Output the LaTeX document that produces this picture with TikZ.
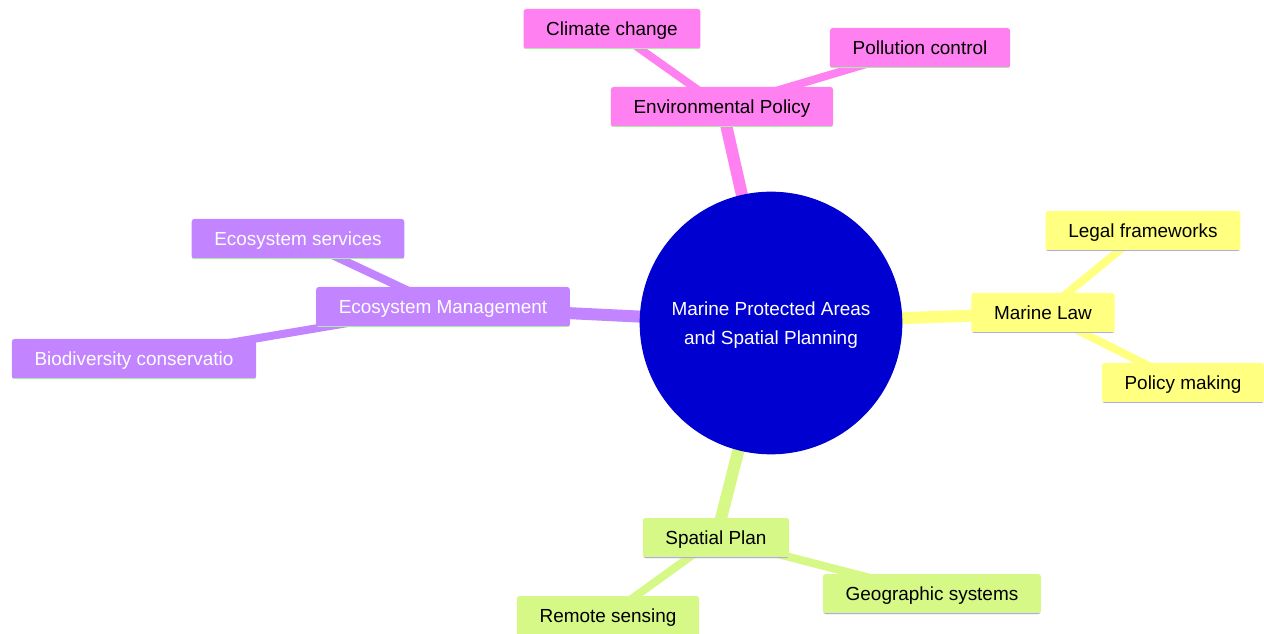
\documentclass[tikz,border=0pt]{standalone}
\usepackage{fontspec}
\setmainfont{Liberation Sans}
\usetikzlibrary{backgrounds,positioning}
\definecolor{pinkbr}{RGB}{255,128,240}
\definecolor{purplebr}{RGB}{194,132,255}
\definecolor{yellowbr}{RGB}{255,255,128}
\definecolor{limebr}{RGB}{214,248,134}
\definecolor{rootblue}{RGB}{0,0,208}
\definecolor{greenline}{RGB}{170,236,160}
\definecolor{lavline}{RGB}{176,172,232}
\tikzstyle{mapbox}=[rectangle,rounded corners=2pt,inner xsep=17pt,minimum height=30pt,
  text height=10.4pt,text depth=0pt,font=\fontsize{14.2}{17}\selectfont,text=black]
\tikzstyle{pinkbox}=[mapbox,fill=pinkbr,path picture={\draw[greenline,line width=2pt]
  (path picture bounding box.south west) -- (path picture bounding box.south east);}]
\tikzstyle{purplebox}=[mapbox,fill=purplebr,text=white,path picture={\draw[greenline,line width=2pt]
  (path picture bounding box.south west) -- (path picture bounding box.south east);}]
\tikzstyle{yellowbox}=[mapbox,fill=yellowbr,path picture={\draw[lavline,line width=2pt]
  (path picture bounding box.south west) -- (path picture bounding box.south east);}]
\tikzstyle{limebox}=[mapbox,fill=limebr,path picture={\draw[lavline,line width=2pt]
  (path picture bounding box.south west) -- (path picture bounding box.south east);}]
\begin{document}
\begin{tikzpicture}[x=0.75pt,y=-0.75pt]
        \tikzstyle{every edge}=[-,draw,line cap=round]
        \useasboundingbox (0,0) rectangle (1264,634);

        % root
        \node (root) [circle,fill=rootblue,minimum size=197pt,inner sep=0pt,text=white,
          align=center,text depth=0pt,font=\fontsize{14.2}{21.5}\selectfont] at (771,323)
          {Marine Protected Areas\\and Spatial Planning};
        % Environmental Policy:
        \node (envp) [pinkbox] at (722,107) {Environmental Policy};
        \node (clim) [pinkbox] at (612,29) {Climate change};
        \node (poll) [pinkbox] at (920,48) {Pollution control};
        % Ecosystem Management:
        \node (ecom) [purplebox] at (443,307) {Ecosystem Management};
        \node (ecos) [purplebox] at (298,239) {Ecosystem services};
        \node (biod) [purplebox] at (134,359) {Biodiversity conservatio};
        % Marine Law:
        \node (mlaw) [yellowbox] at (1043,313) {Marine Law};
        \node (legal) [yellowbox] at (1143,231) {Legal frameworks};
        \node (polm) [yellowbox] at (1183,383) {Policy making};
        % Spatial Plan:
        \node (splan) [limebox] at (716,538) {Spatial Plan};
        \node (remote) [limebox] at (608,616) {Remote sensing};
        \node (geo) [limebox] at (932,594) {Geographic systems};

        \begin{pgfonlayer}{background}
        \path[line width=9pt]
        (root.center) edge[pinkbr] (envp.center)
        (root.center) edge[purplebr] (ecom.center)
        (root.center) edge[yellowbr] (mlaw.center)
        (root.center) edge[limebr] (splan.center);
        \path[line width=6pt]
        (envp.center) edge[pinkbr] (clim.center)
        (envp.center) edge[pinkbr] (poll.center)
        (ecom.center) edge[purplebr] (ecos.center)
        (ecom.center) edge[purplebr] (biod.center)
        (mlaw.center) edge[yellowbr] (legal.center)
        (mlaw.center) edge[yellowbr] (polm.center)
        (splan.center) edge[limebr] (remote.center)
        (splan.center) edge[limebr] (geo.center);
        \end{pgfonlayer}
\end{tikzpicture}
\end{document}
